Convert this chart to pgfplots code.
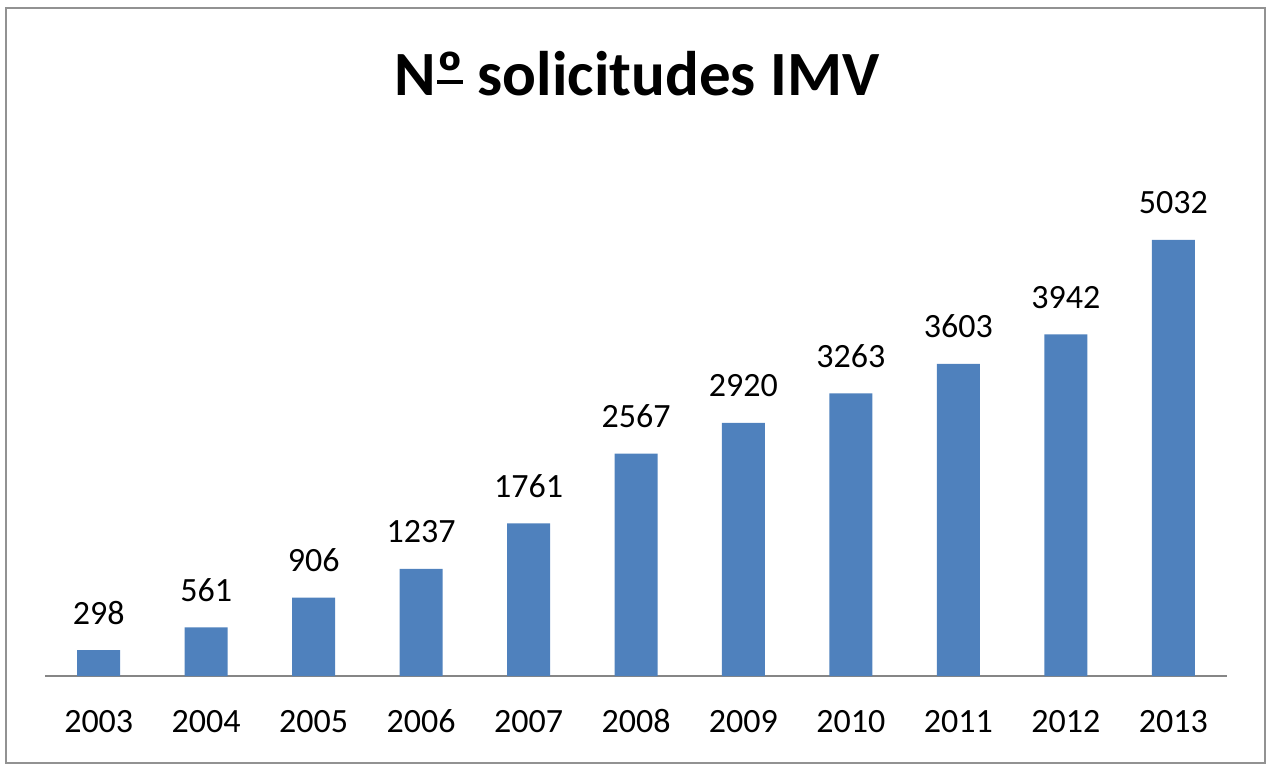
\documentclass[border=0pt]{standalone}
\usepackage{fontspec}
\setmainfont{Carlito}
\usepackage{pgfplots}
\pgfplotsset{compat=1.18}
\definecolor{barblue}{HTML}{4F81BD}
\definecolor{axgray}{HTML}{868686}
\newsavebox\ordbox
\begin{document}
\begin{tikzpicture}
\useasboundingbox (0,0) rectangle (1268pt,-764pt);
\draw[line width=2.5pt, color=axgray!90] (6pt,-8pt) rectangle (1265pt,-763pt);
\node[anchor=base, inner sep=0pt, font=\fontsize{63}{70}\selectfont\bfseries] at (637pt,-95pt) {N\sbox\ordbox{º}\rlap{\hspace{1pt}\rule[11pt]{\dimexpr\wd\ordbox-2pt\relax}{4pt}}\usebox\ordbox{} solicitudes IMV};
\begin{axis}[
  at={(45pt,-676pt)}, anchor=south west,
  scale only axis, width=1182pt, height=519.9pt,
  xmin=-0.5, xmax=10.5, ymin=0, ymax=6000,
  enlargelimits=false, clip=false,
  ybar, bar width=43pt,
  axis x line*=bottom, hide y axis,
  x axis line style={axgray, line width=2pt},
  xtick={0,...,10},
  xticklabels={2003,2004,2005,2006,2007,2008,2009,2010,2011,2012,2013},
  major tick length=0pt,
  xticklabel style={anchor=base, inner sep=0pt, yshift=-56pt, font=\fontsize{34}{40}\selectfont},
  /pgf/number format/.cd, 1000 sep={}, assume math mode=true, /pgfplots/.cd,
  nodes near coords,
  every node near coord/.append style={anchor=base, inner sep=0pt, yshift=26pt, font=\fontsize{34}{40}\selectfont, black},
]
\addplot[fill=barblue, draw=none] coordinates {
(0,298) (1,561) (2,906) (3,1237) (4,1761) (5,2567) (6,2920) (7,3263) (8,3603) (9,3942) (10,5032)
};
\end{axis}
\end{tikzpicture}
\end{document}
